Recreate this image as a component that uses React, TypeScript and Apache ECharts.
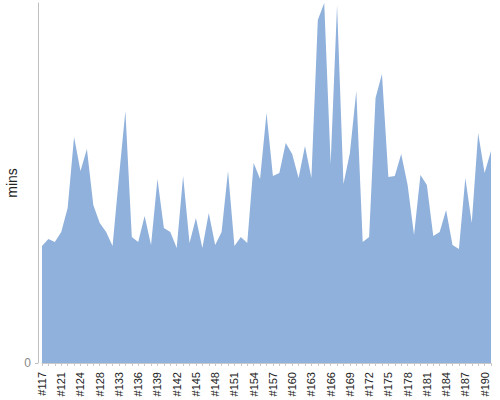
import * as echarts from 'echarts';
import React, { useEffect, useRef } from 'react';

// build ids (some ids are missing from the run history)
const builds = [
  '#117', '#119', '#120', '#121', '#122', '#123', '#124', '#126', '#127', '#128',
  '#130', '#131', '#133', '#134', '#135', '#136', '#137', '#138', '#139', '#140',
  '#141', '#142', '#143', '#144', '#145', '#146', '#147', '#148', '#149', '#150',
  '#151', '#152', '#153', '#154', '#155', '#156', '#157', '#158', '#159', '#160',
  '#161', '#162', '#163', '#164', '#165', '#166', '#167', '#168', '#169', '#170',
  '#171', '#172', '#173', '#174', '#175', '#176', '#177', '#178', '#179', '#180',
  '#181', '#182', '#183', '#184', '#185', '#186', '#187', '#188', '#189', '#190',
  '#191',
];

// duration of each build, in minutes
const durations = [
  117, 124, 121, 131, 155, 226, 192, 214, 158, 140,
  131, 117, 186, 252, 126, 121, 147, 118, 184, 135,
  131, 115, 187, 120, 145, 115, 150, 118, 131, 192,
  117, 126, 120, 200, 184, 250, 187, 190, 220, 209,
  185, 217, 185, 343, 360, 199, 358, 179, 210, 272,
  121, 126, 265, 289, 186, 187, 209, 178, 128, 188,
  178, 127, 131, 153, 118, 114, 185, 140, 230, 190,
  212,
];

const yTicks = [0];

const App: React.FC = () => {
  const chartRef = useRef<HTMLDivElement>(null);

  useEffect(() => {
    const myChart = echarts.init(chartRef.current!, null, { renderer: 'svg' });

    const option = {
      animation: false,
      textStyle: { fontFamily: 'Liberation Sans, Arial, sans-serif' },
      grid: { left: 42, right: 9, top: 3, bottom: 37, containLabel: false, outerBoundsMode: 'none' },
      xAxis: {
        type: 'category',
        data: builds,
        boundaryGap: false,
        offset: 5,
        axisLine: { lineStyle: { color: '#c8c8c8', width: 1 } },
        axisTick: { interval: 0, length: 3, lineStyle: { color: '#c8c8c8' } },
        axisLabel: {
          interval: 2,
          rotate: 90,
          fontSize: 11,
          color: '#222',
          margin: 4,
        },
      },
      yAxis: {
        type: 'value',
        min: 0,
        max: 360,
        name: 'mins',
        nameLocation: 'middle',
        nameGap: 19,
        nameMoveOverlap: false,
        nameTextStyle: { fontSize: 14, color: '#222' },
        offset: 4,
        splitLine: { show: false },
        axisLine: { show: true, lineStyle: { color: '#c0c0c0', width: 1 } },
        axisTick: { show: true, length: 3, customValues: yTicks, lineStyle: { color: '#c0c0c0' } },
        axisLabel: { customValues: yTicks, fontSize: 12, color: '#888', margin: 7 },
      },
      series: [
        {
          type: 'line',
          data: durations,
          symbol: 'none',
          lineStyle: { width: 0 },
          areaStyle: { color: '#8fb1db', opacity: 1 },
        },
      ],
    };

    myChart.setOption(option);

    return () => {
      myChart.dispose();
    };
  }, []);

  return (
    <div
      ref={chartRef}
      style={{ position: 'fixed', left: 0, top: 0, width: '500px', height: '400px', background: '#fff' }}
    />
  );
};

export default App;
